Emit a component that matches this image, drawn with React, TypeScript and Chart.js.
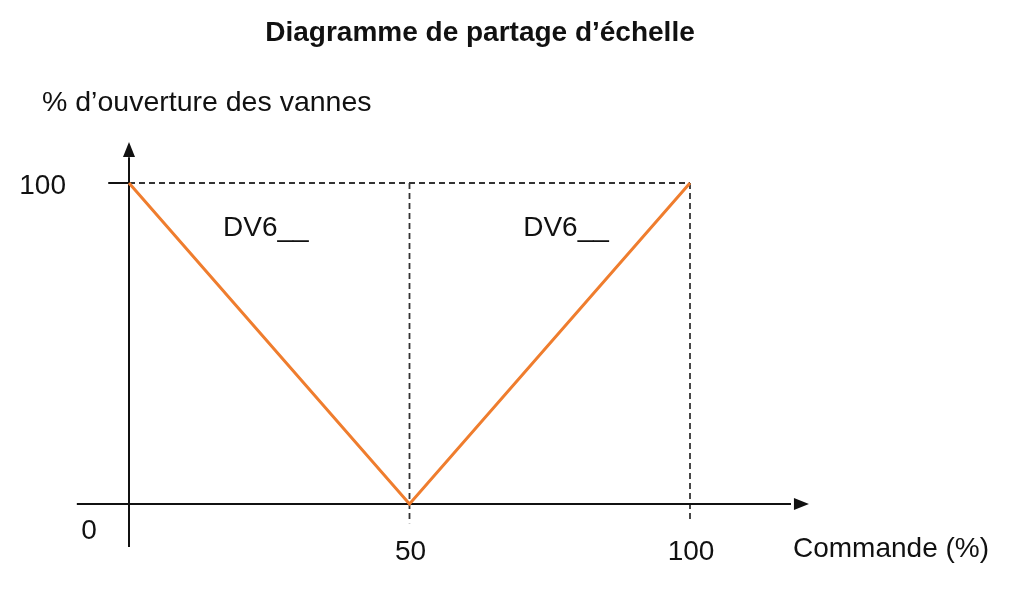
import React, { useEffect, useRef } from "react";
import { Chart, registerables } from "chart.js";

Chart.register(...registerables);

const commande = [0, 50, 100];
const ouverture = [100, 0, 100];
const xTickLabels = ["50", "100"];
const xTickValues = [50, 100];
const yTickLabels = ["0", "100"];
const zoneLabels = ["DV6__", "DV6__"];
const zoneLabelX = [24.4, 77.9];
const titleText = "Diagramme de partage d\u2019\u00e9chelle";
const yAxisTitle = "% d\u2019ouverture des vannes";
const xAxisTitle = "Commande (%)";

const FONT = '"Liberation Sans", Arial, sans-serif';

const decor = {
  id: "decor",
  beforeDatasetsDraw(chart: any) {
    const { ctx, scales } = chart;
    const xs = scales.x;
    const ys = scales.y;
    const px = (v: number) => xs.getPixelForValue(v);
    const py = (v: number) => ys.getPixelForValue(v);
    ctx.save();
    ctx.strokeStyle = "#333";
    ctx.lineWidth = 1.8;
    ctx.setLineDash([6, 4]);
    ctx.beginPath();
    ctx.moveTo(px(0), py(100));
    ctx.lineTo(px(100), py(100));
    ctx.moveTo(px(50), py(100));
    ctx.lineTo(px(50), py(-6));
    ctx.moveTo(px(100), py(100));
    ctx.lineTo(px(100), py(-5.6));
    ctx.stroke();
    ctx.setLineDash([]);
    // axes
    ctx.strokeStyle = "#111";
    ctx.fillStyle = "#111";
    ctx.lineWidth = 2;
    ctx.beginPath();
    ctx.moveTo(px(0), py(-13.4));
    ctx.lineTo(px(0), py(108));
    ctx.moveTo(px(-9.3), py(0));
    ctx.lineTo(px(118), py(0));
    ctx.moveTo(px(-3.7), py(100));
    ctx.lineTo(px(0), py(100));
    ctx.stroke();
    // arrow heads
    const ax = px(0), ay = py(112.8);
    ctx.beginPath();
    ctx.moveTo(ax, ay);
    ctx.lineTo(ax - 6, ay + 15);
    ctx.lineTo(ax + 6, ay + 15);
    ctx.closePath();
    ctx.fill();
    const bx = px(121.2), by = py(0);
    ctx.beginPath();
    ctx.moveTo(bx, by);
    ctx.lineTo(bx - 15, by - 6);
    ctx.lineTo(bx - 15, by + 6);
    ctx.closePath();
    ctx.fill();
    ctx.restore();
  },
  afterDraw(chart: any) {
    const { ctx, scales } = chart;
    const xs = scales.x;
    const ys = scales.y;
    const px = (v: number) => xs.getPixelForValue(v);
    const py = (v: number) => ys.getPixelForValue(v);
    ctx.save();
    ctx.fillStyle = "#111";
    ctx.textBaseline = "middle";
    ctx.font = `bold 28px ${FONT}`;
    ctx.textAlign = "center";
    ctx.fillText(titleText, 480, 33);
    ctx.font = `28.5px ${FONT}`;
    ctx.textAlign = "left";
    ctx.fillText(yAxisTitle, 42, 103);
    ctx.font = `28px ${FONT}`;
    ctx.fillText(xAxisTitle, 793, 549);
    ctx.textAlign = "right";
    ctx.fillText(yTickLabels[1], 66, py(100) + 3);
    ctx.textAlign = "center";
    ctx.fillText(yTickLabels[0], 89, py(0) + 27);
    xTickLabels.forEach((t, i) => {
      ctx.fillText(t, px(xTickValues[i]) + 1, py(0) + 48);
    });
    zoneLabels.forEach((t, i) => {
      ctx.fillText(t, px(zoneLabelX[i]), 228);
    });
    ctx.restore();
  },
};

export default function App() {
  const ref = useRef<HTMLCanvasElement>(null);
  useEffect(() => {
    if (!ref.current) return;
    const chart = new Chart(ref.current, {
      type: "scatter",
      data: {
        datasets: [
          {
            data: commande.map((c, i) => ({ x: c, y: ouverture[i] })),
            showLine: true,
            borderColor: "#EF7D2E",
            borderWidth: 3,
            pointRadius: 0,
            clip: false as any,
            tension: 0,
          },
        ],
      },
      options: {
        animation: false,
        responsive: false,
        devicePixelRatio: 1,
        layout: { padding: { left: 129, right: 320, top: 183, bottom: 112 } },
        plugins: { legend: { display: false }, title: { display: false }, tooltip: { enabled: false } },
        scales: {
          x: { type: "linear", min: 0, max: 100, display: false },
          y: { type: "linear", min: 0, max: 100, display: false },
        },
      },
      plugins: [decor],
    });
    return () => chart.destroy();
  }, []);
  return (
    <div style={{ position: "absolute", left: 0, top: 0, width: 1010, height: 616, background: "#fff" }}>
      <canvas ref={ref} width={1010} height={616} style={{ display: "block" }} />
    </div>
  );
}
